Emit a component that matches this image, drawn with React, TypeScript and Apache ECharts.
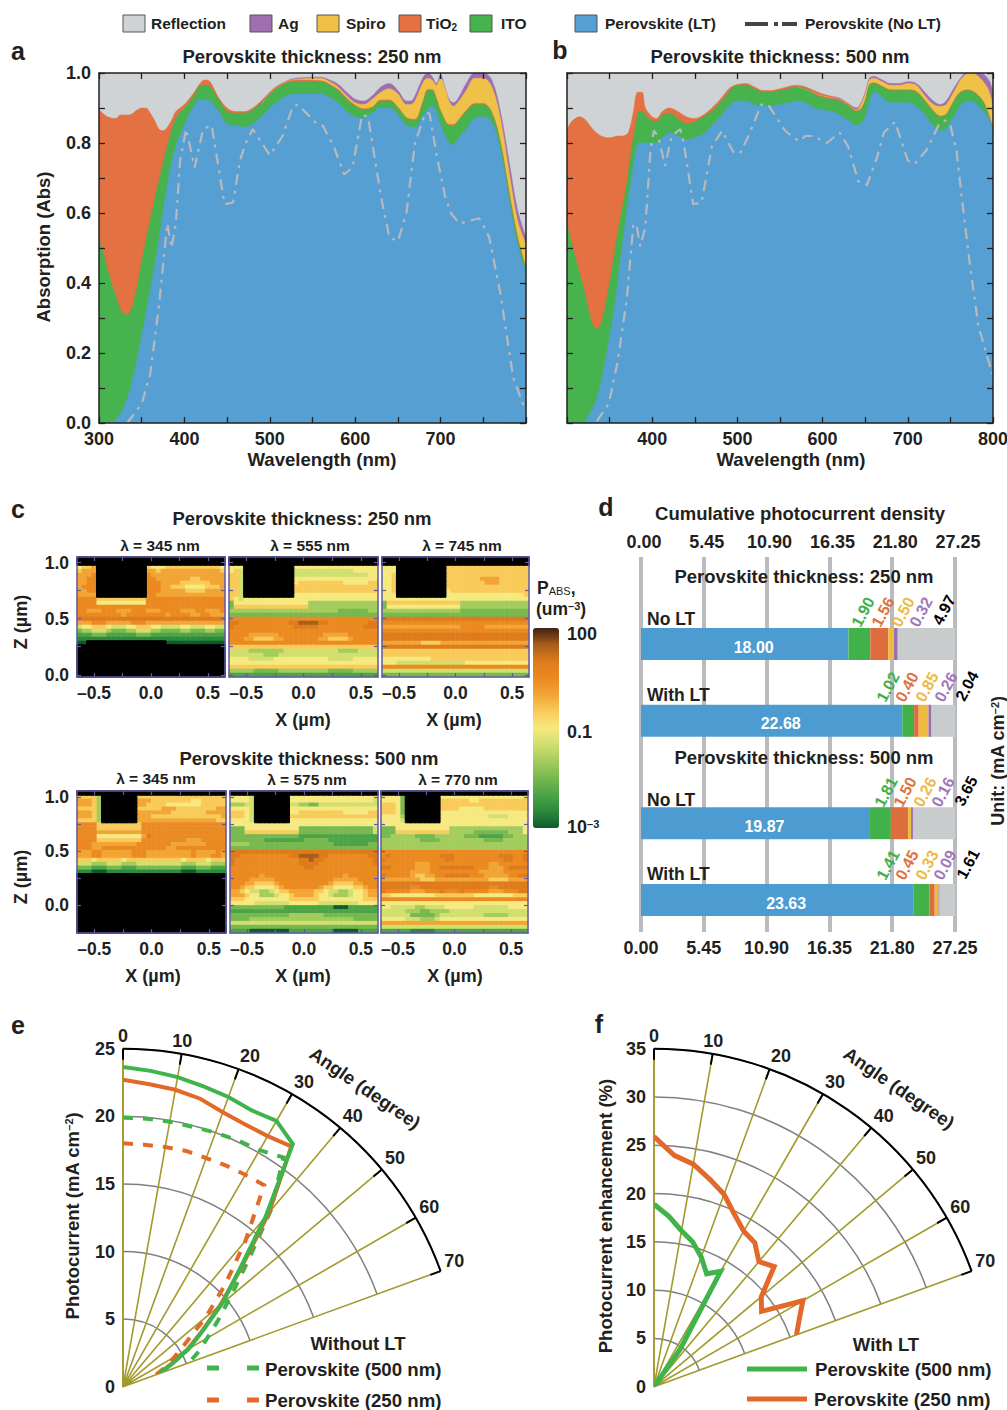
import React, { useEffect, useRef } from "react";
import * as echarts from "echarts";

const FONT = "'Liberation Sans', Arial, sans-serif";
const INK = "#231f20";
const C_REF = "#cfd3d5", C_AG = "#9f6fb2", C_SPIRO = "#efc146", C_TIO2 = "#e37142", C_ITO = "#47b34f", C_PVK = "#569fd2", C_NOLT = "#b9b9bc";

// Panel a: curve tops (cumulative absorption)
const aBlue = [[300,0],[310,0],[320,.01],[330,.05],[340,.13],[350,.25],[360,.38],[370,.52],[380,.68],[390,.79],[400,.85],[410,.9],[420,.925],[430,.92],[440,.89],[450,.855],[460,.85],[470,.845],[480,.855],[490,.875],[500,.9],[510,.92],[520,.935],[530,.94],[550,.94],[560,.94],[570,.93],[580,.915],[590,.89],[600,.875],[610,.87],[620,.885],[630,.9],[640,.9],[650,.88],[660,.85],[670,.845],[680,.88],[690,.905],[695,.89],[700,.85],[710,.8],[715,.795],[720,.81],[730,.84],[740,.87],[750,.875],[760,.86],[770,.78],[780,.64],[790,.51],[800,.43]];
const aIto = [[300,.53],[310,.44],[320,.36],[330,.31],[333,.31],[340,.34],[350,.46],[360,.58],[370,.69],[380,.79],[390,.87],[400,.9],[410,.93],[420,.965],[425,.965],[430,.96],[440,.925],[450,.89],[460,.885],[470,.885],[480,.895],[490,.915],[500,.94],[510,.96],[520,.97],[530,.975],[560,.975],[570,.965],[580,.95],[590,.925],[600,.905],[610,.895],[620,.9],[630,.92],[640,.92],[650,.9],[660,.87],[670,.865],[680,.92],[685,.95],[690,.95],[695,.925],[700,.89],[710,.85],[715,.85],[720,.86],[730,.89],[740,.91],[750,.91],[760,.885],[770,.8],[780,.66],[790,.53],[800,.44]];
const aTio2 = [[300,.895],[310,.875],[320,.87],[325,.88],[335,.88],[345,.895],[350,.9],[355,.9],[360,.885],[365,.865],[370,.84],[375,.835],[380,.845],[385,.865],[390,.89],[400,.91],[410,.94],[420,.975],[425,.98],[430,.975],[440,.93],[450,.9],[460,.89],[470,.89],[480,.9],[490,.92],[500,.945],[510,.965],[520,.975],[530,.98],[560,.978],[570,.968],[580,.953],[590,.928],[600,.908],[610,.898],[620,.903],[630,.923],[640,.923],[650,.903],[660,.873],[670,.868],[680,.923],[685,.953],[690,.953],[695,.928],[700,.893],[710,.853],[715,.853],[720,.863],[730,.893],[740,.913],[750,.913],[760,.888],[770,.803],[780,.663],[790,.533],[800,.443]];
const aSpiro = [[490,.91],[500,.94],[510,.96],[520,.975],[530,.982],[560,.985],[570,.975],[580,.96],[590,.935],[600,.915],[610,.91],[620,.925],[630,.945],[640,.955],[650,.94],[660,.91],[665,.91],[670,.92],[680,.975],[685,.985],[690,.98],[695,.965],[700,.985],[705,.96],[710,.92],[715,.905],[720,.915],[730,.95],[740,.985],[750,.985],[760,.96],[770,.87],[780,.72],[790,.58],[800,.51]];
const aAg = [[490,.91],[500,.94],[510,.96],[520,.977],[530,.985],[560,.988],[570,.98],[580,.968],[590,.945],[600,.925],[610,.92],[620,.935],[630,.96],[640,.97],[650,.95],[660,.92],[665,.92],[670,.935],[680,.99],[685,1],[690,.99],[695,.97],[700,.995],[705,.96],[710,.925],[715,.915],[720,.925],[730,.97],[740,1],[750,1],[760,.98],[770,.89],[780,.75],[790,.61],[800,.53]];
const aNoLT = [[333,0],[350,.055],[360,.14],[370,.33],[375,.45],[380,.57],[385,.5],[390,.57],[395,.75],[402,.84],[412,.73],[422,.84],[432,.85],[447,.625],[457,.63],[465,.75],[472,.8],[480,.84],[500,.765],[515,.82],[527,.905],[533,.91],[555,.855],[562,.85],[575,.79],[587,.71],[597,.73],[608,.88],[615,.875],[630,.65],[640,.53],[650,.52],[660,.6],[670,.8],[682,.885],[687,.885],[695,.77],[705,.65],[712,.6],[722,.57],[745,.585],[750,.565],[757,.53],[770,.37],[785,.13],[797,.05]];

// Panel b
const bBlue = [[300,0],[310,0],[318,0],[325,.02],[335,.07],[345,.18],[355,.32],[362,.45],[370,.6],[377,.72],[385,.8],[392,.8],[405,.8],[412,.815],[420,.83],[430,.82],[440,.81],[450,.815],[460,.825],[470,.85],[480,.875],[490,.905],[500,.92],[510,.92],[520,.91],[530,.905],[540,.905],[550,.91],[560,.915],[570,.92],[580,.915],[590,.9],[600,.895],[610,.89],[620,.88],[630,.865],[640,.85],[648,.865],[652,.89],[658,.94],[662,.945],[670,.93],[680,.915],[700,.915],[710,.905],[720,.88],[730,.85],[738,.835],[745,.84],[755,.88],[765,.915],[775,.92],[785,.9],[795,.87],[800,.83]];
const bIto = [[300,.57],[310,.47],[320,.38],[330,.28],[335,.27],[340,.28],[350,.4],[360,.55],[370,.68],[375,.77],[380,.84],[385,.89],[388,.89],[395,.87],[405,.86],[412,.88],[420,.885],[430,.87],[440,.855],[450,.86],[460,.875],[470,.89],[480,.915],[490,.945],[500,.965],[510,.965],[520,.955],[530,.945],[540,.945],[550,.95],[560,.955],[570,.96],[580,.955],[590,.94],[600,.93],[610,.925],[620,.92],[630,.905],[640,.89],[645,.895],[650,.92],[655,.965],[660,.97],[670,.96],[680,.95],[700,.95],[710,.945],[720,.92],[730,.89],[738,.875],[745,.88],[750,.9],[760,.94],[770,.95],[780,.94],[790,.91],[800,.84]];
const bTio2 = [[300,.84],[307,.865],[315,.875],[322,.865],[330,.84],[340,.82],[350,.815],[360,.82],[365,.82],[372,.83],[378,.89],[383,.945],[388,.945],[392,.9],[400,.875],[405,.87],[412,.89],[420,.9],[430,.89],[440,.875],[450,.87],[460,.88],[470,.9],[480,.925],[490,.955],[497,.965],[510,.97],[520,.96],[530,.95],[540,.95],[550,.955],[570,.965],[580,.96],[590,.95],[600,.94],[620,.925],[630,.91],[640,.893],[645,.898],[650,.922],[655,.967],[660,.972],[670,.962],[680,.952],[700,.952],[710,.947],[720,.922],[730,.892],[738,.877],[745,.882],[750,.902],[760,.942],[770,.952],[780,.942],[790,.912],[800,.842]];
const bSpiro = [[570,.962],[600,.935],[620,.925],[630,.91],[640,.895],[645,.91],[650,.94],[655,.98],[660,.985],[670,.975],[680,.965],[690,.965],[700,.97],[710,.965],[720,.935],[730,.91],[738,.905],[745,.91],[755,.95],[765,.99],[775,1],[785,.985],[795,.95],[800,.9]];
const bAg = [[570,.962],[600,.938],[620,.928],[630,.913],[640,.9],[645,.915],[650,.945],[655,.985],[660,.99],[670,.98],[680,.97],[690,.97],[700,.975],[710,.97],[720,.945],[730,.92],[738,.91],[745,.92],[755,.96],[765,.995],[770,1],[785,1],[795,.98],[800,.945]];
const bNoLT = [[335,.005],[349,.055],[359,.17],[370,.35],[378,.57],[382,.56],[386,.505],[392,.56],[398,.78],[402,.835],[407,.82],[415,.735],[423,.82],[433,.84],[437,.8],[448,.625],[458,.63],[470,.79],[482,.835],[495,.775],[503,.77],[513,.82],[528,.91],[536,.91],[556,.835],[572,.805],[580,.82],[589,.82],[605,.8],[620,.83],[630,.79],[642,.69],[652,.68],[664,.76],[672,.83],[685,.86],[700,.75],[708,.74],[722,.78],[736,.85],[744,.865],[750,.85],[757,.78],[765,.61],[773,.45],[783,.275],[791,.21],[799,.14]];

// Panel c: absorbed power, one character per cell: "." is outside the absorber, 0-9,a,b,c are colour-bar levels
const c345a = [
"..............................","..............................",
"6778..........7666777777777776","7888..........8878888888888887","8889..........9888888888888888","8899..........9988888887788888",
"8899..........9998888777777888","8999..........9998877766667778","8899..........9998888877778888","8888..........9988888888888888",
"999977777777779999999999999999","999966666666669999999999999999","999999999999999999999999999999","998889998889998889999888998889",
"999999999899999999899998899888","aaaaaaaaaaaaaaaaaaaaaaaaaaaaaa","888999888889998888888888888888","566777655566777665555665556655",
"344555433344555443333443334433","222333222222333222222222222222","111111111111111111111111111111","00................000000000000",
"..............................","..............................","..............................","..............................",
"..............................","..............................","..............................",".............................."];
const c555 = [
"..............................","..............................",
"666..........66666666666666666","675..........55555555555566666","775..........55555555555555566","775..........66666666666666666",
"775..........67777777776666677","775..........77777777777777777","775..........77777777777777777","775..........66666666666666666",
"765666666666666666666666666666","366666666666666644444444444444","377777777777777744444444444444","444444444444444444444433333344",
"333333333333333333333333333333","999999999999999999999999999999","aa9999999999aabbbbaa99999999aa","a999999999999aaaaa999999999aaa",
"999999999999999999999999999999","999988888899999999988888999999","999887777889999999887777899999","999999999999999999999999999999",
"777777777777777777777777777777","555544444445555555555544445555","555555544455555555555555555555","666655555666666666665555566666",
"666666666666666666666666666666","777777777777777777777777777777","444443333344444444443333344444","222222222222222222222222222222"];
const c745 = [
"..............................","..............................",
"666..........77777777777777777","666..........77777777777777777","667..........77777777777777777","667..........77777778888777777",
"667..........77777777888777777","667..........77777777777777777","667..........67777777777777777","666..........66666666666666667",
"666666666666666666666666666666","377777777777777744444444444444","366666666666666644444444444444","444444444444444433333333333333",
"333333333333333333333333333333","aaaaaaaaaaaaaaaaaaaaaaaaaaaaaa","999999999999999999999999999999","888888888888888899999888888888",
"999999999999999999999999999999","aaaaaaaaaaaaaaaaaaaaaaaaaaaaaa","aaaaaaaaaaaaaaaaaaaaaaaaaaaaaa","888888887777888888888888888888",
"aaaaaaaaaaaaaaaaaaaaaaaaaaaaaa","777777777777777777777777777777","777777777777777777777777777777","666666666677777777777777777777",
"666555555555555556666666666666","999999999999999999999999999999","555555555555555555555555555555","333333333333333333333333333333"];
const c345b = [
"..............................",
"77774.......777777777777777777","88874.......888777777776677777","88874.......887777666666677777","77774.......777778887777777788",
"88874.......888888877777778888","88874.......888777777777777778","77774.......888888888888888877",
"999977777777799999999999999999","999977777777799999999999999999","999988888888899999999999999999","99996666666668a999999999999999",
"999977777777799999999988899999","999888888888999999988888889999","999889999999999999889999999999","888998888889998888888889888898",
"888998888889998888888889888998","777677777677777777777677776777","555444555444555555555444555444","333222333222333333333222333222",
"111000111111111111111000111111","..............................","..............................","..............................",
"..............................","..............................","..............................","..............................",
"..............................","..............................","..............................","..............................",
"..............................","..............................","..............................",".............................."];
const c575 = [
"..............................",
"66665.......666666666666666666","66665.......666666666666666665","44455.......554433555555555555","66665.......666666666666666666",
"77765.......667777777776666677","77765.......777777777777777777","66665.......666666666666666666",
"666666666666666666666666666666","333666666666663333333333333335","333777777777773333333333333335","333333333333332222222222222222",
"333333322222222333332222222222","444433333333333333333222222233","333333333333333333333333333333","aaaaaaaaaaaaaaaaaaaaaaaaaaaaaa",
"aa9999999999aabbbbaa99999999aa","a9999999999999aabaa9999999999a","a9999999999999aaaa99999999999a","999999999999999aa9999999999999",
"999999999999999999999999999999","999999899999999999999998999999","999988888999999999999888889999","999887777899999999998777788999",
"998776666789999999877666677899","887655445677888887765544566788","888766444566788887665444566788","777666666666777777666666666777",
"666665555555666666555555556666","333333333332222222222000222222","222222222222222222222222222222","333333333333444444433333333333",
"333344444444444444444444433333","555555555555555555555555555555","333333333333333333333333333333","222200000000222222222000002222"];
const c770 = [
"..............................",
"66663.......666666666666666666","66663.......777777667777777777","77763.......777777777777777777","77763.......777766666777777777",
"77763.......666666666666666666","66664.......666666666655556666","66665.......666666666666666666",
"666666666666666666666666666666","333666666666664444444444444446","333777777777774444433333334446","334444433334444443332222233444",
"444444443333444444444333344444","444444444444444444444444444444","444444444444444444444444444444","999999999999999999999999999999",
"9a9999999999aaa999999999aaa99a","a999999999999aa9999999999aa99a","999999988899999999999988999999","aa9999988899aaaaaaa9998889aaaa",
"999999888899999999998888899999","a999998778899aaaaa9998888899aa","888888887778888888888877778888","aaaaaaaaaaaaaaaaaaaaaaaaaaaaaa",
"aaaaaa99aaaaaaaaaaaaaa99aaaaaa","a99999888999a999a99999888999aa","776666666667777777766666666777","999999999999999999999999999999",
"666666666666666666666666666666","665555544555566666655555556666","555554443344445555555555555555","555555333334555555555444445555",
"666665554445666666666666666666","888888888888888888888888888888","555555555555555555555555555555","222222111112222222222222222222"];
const cColors = ["#0f5a2c","#2b8a3e","#4ca447","#77b84f","#a3cc5d","#d0df6e","#f6e97f","#f8cb5a","#f2a535","#ea8a20","#de7b1c","#a85d18","#3d2210"];

// Panel d
const dScale = [0, 27.25];
const dRows = ["No LT (250)", "With LT (250)", "No LT (500)", "With LT (500)"];
const dBlue = [18.0, 22.68, 19.87, 23.63];
const dIto = [1.9, 1.02, 1.81, 1.41];
const dTio2 = [1.56, 0.4, 1.5, 0.45];
const dSpiro = [0.5, 0.85, 0.26, 0.33];
const dAg = [0.32, 0.26, 0.16, 0.09];
const dRef = [4.97, 2.04, 3.65, 1.61];

// Panels e and f: [photocurrent, angle]
const eAngles = [0,5,10,15,20,25,30,35,40,45,50,55,60,65,70];
const e500LT = [23.65,23.45,23.25,23,22.8,22.55,22.7,21.9,16.4,12.1,9.6,7.2,5.65,4.05,2.87];
const e250LT = [22.7,22.45,22.3,22.05,21.6,21.4,21.4,21.7,16.8,12.3,9.4,7.1,5.5,3.9,2.8];
const e500No = [19.9,19.9,19.9,19.9,20,20.1,20.2,20.7,17,13,10.4,8.6,7.2,6.2,5.2];
const e250No = [18,17.97,18,18.05,18,18.05,18.1,18.2,14.1,10.7,8,5.7,4.4,3.5,2.6];
const fAngles500 = [0,5,10,15,20,25,30,35,40];
const f500 = [18.9,17.7,16.4,15.5,14.3,12.9,13.8,4.7,0];
const fAngles250 = [0,5,10,15,20,25,30,35,40,45,50,55,60,65,70];
const f250 = [25.9,24.05,23.4,22.25,21.2,19.7,18.6,18.2,16.9,17.6,14.5,13.6,17.8,16.6,15.7];
const C_G = "#3fb44b", C_O = "#e2692a";

function buildOption() {
  const grids: any[] = [], xAxes: any[] = [], yAxes: any[] = [], series: any[] = [], g: any[] = [];
  const addX = (o: any) => { xAxes.push(o); return xAxes.length - 1; };
  const addY = (o: any) => { yAxes.push(o); return yAxes.length - 1; };
  const addGrid = (left: number, top: number, width: number, height: number, extra: any = {}) => {
    grids.push({ left, top, width, height, containLabel: false, outerBoundsMode: "none", ...extra }); return grids.length - 1;
  };
  const T = (text: string, x: number, y: number, o: any = {}) => {
    g.push({ type: "text", x, y, z: 100, rotation: o.rot || 0, silent: true,
      style: { text, fontFamily: FONT, fontSize: o.size || 18.5, fontWeight: o.weight || "bold", fill: o.fill || INK,
        align: o.align || "center", verticalAlign: "middle", rich: o.rich } });
  };
  const lbl = (size = 17) => ({ color: INK, fontFamily: FONT, fontSize: size, fontWeight: "bold" });

  // a, b
  const spectrum = (left: number, width: number, curves: any[], noLT: number[][], labels: { yl: boolean; lo: number; hi: number }) => {
    const gi = addGrid(left, 73, width, 350, { show: true, backgroundColor: C_REF, borderWidth: 0 });
    const tick = { show: true, inside: true, length: 6, lineStyle: { color: INK, width: 1.3 } };
    const line = { show: true, onZero: false, lineStyle: { color: INK, width: 1.5 } };
    const xi = addX({ gridIndex: gi, type: "value", position: "bottom", min: 300, max: 800, interval: 50, z: 10, splitLine: { show: false }, axisLine: line, axisTick: tick,
      axisLabel: { ...lbl(18), margin: 7, hideOverlap: false, formatter: (v: number) => (v % 100 === 0 && v >= labels.lo && v <= labels.hi ? String(v) : "") } });
    addX({ gridIndex: gi, type: "value", position: "top", min: 300, max: 800, interval: 50, z: 10, splitLine: { show: false }, axisLine: line, axisTick: tick, axisLabel: { show: false } });
    const yi = addY({ gridIndex: gi, type: "value", position: "left", min: 0, max: 1, interval: 0.1, z: 10, splitLine: { show: false }, axisLine: line, axisTick: tick,
      axisLabel: { ...lbl(18), margin: 8, show: labels.yl, formatter: (v: number) => (Math.round(v * 10) % 2 === 0 ? v.toFixed(1) : "") } });
    addY({ gridIndex: gi, type: "value", position: "right", min: 0, max: 1, interval: 0.1, z: 10, splitLine: { show: false }, axisLine: line, axisTick: tick, axisLabel: { show: false } });
    curves.forEach(([name, data, color]) => series.push({ name, type: "line", xAxisIndex: xi, yAxisIndex: yi, data, smooth: 0.35, showSymbol: false, silent: true,
      lineStyle: { width: 0.5, color }, areaStyle: { color, opacity: 1 } }));
    series.push({ name: "Perovskite (No LT)", type: "line", xAxisIndex: xi, yAxisIndex: yi, data: noLT, showSymbol: false, silent: true, z: 3,
      lineStyle: { color: C_NOLT, width: 2.2, type: [11, 6, 3, 6] } });
  };
  spectrum(99, 427, [["Ag", aAg, C_AG], ["Spiro", aSpiro, C_SPIRO], ["TiO2", aTio2, C_TIO2], ["ITO", aIto, C_ITO], ["Perovskite (LT)", aBlue, C_PVK]], aNoLT, { yl: true, lo: 300, hi: 700 });
  spectrum(567, 426, [["Ag", bAg, C_AG], ["Spiro", bSpiro, C_SPIRO], ["TiO2", bTio2, C_TIO2], ["ITO", bIto, C_ITO], ["Perovskite (LT)", bBlue, C_PVK]], bNoLT, { yl: false, lo: 400, hi: 800 });

  // c
  const PURPLE = "#5f5aa6";
  const heatIdx: number[] = [], blackIdx: number[] = [];
  const heat = (rows: string[], left: number, top: number, width: number, height: number, yMin: number, yMax: number, yLab: boolean) => {
    const gi = addGrid(left, top, width, height);
    const cols = rows[0].length;
    const cx = addX({ gridIndex: gi, type: "category", position: "bottom", show: false, data: Array.from({ length: cols }, (_, i) => i) });
    const cy = addY({ gridIndex: gi, type: "category", position: "left", show: false, inverse: true, data: rows.map((_, i) => i) });
    const tick = { inside: true, length: 4, lineStyle: { color: PURPLE, width: 1.2 } };
    const fmt = (v: number) => (v < 0 ? "\u2013" + Math.abs(v).toFixed(1) : v.toFixed(1));
    const xT = [-0.5, -0.25, 0, 0.25, 0.5], yT = [0, 0.25, 0.5, 0.75, 1];
    const edge = { show: true, onZero: false, lineStyle: { color: PURPLE, width: 1.5 } };
    addX({ gridIndex: gi, type: "value", position: "bottom", min: -0.65, max: 0.65, z: 10, splitLine: { show: false }, axisLine: edge,
      axisTick: { ...tick, customValues: xT }, axisLabel: { ...lbl(17.5), margin: 7, customValues: [-0.5, 0, 0.5], formatter: fmt } });
    addX({ gridIndex: gi, type: "value", position: "top", min: -0.65, max: 0.65, z: 10, splitLine: { show: false }, axisLine: edge,
      axisTick: { ...tick, customValues: xT }, axisLabel: { show: false } });
    addY({ gridIndex: gi, type: "value", position: "left", min: yMin, max: yMax, z: 10, splitLine: { show: false }, axisLine: edge,
      axisTick: { ...tick, customValues: yT }, axisLabel: { ...lbl(17.5), margin: 8, customValues: [0, 0.5, 1], formatter: (v: number) => v.toFixed(1), show: yLab } });
    addY({ gridIndex: gi, type: "value", position: "right", min: yMin, max: yMax, z: 10, splitLine: { show: false }, axisLine: edge,
      axisTick: { ...tick, customValues: yT }, axisLabel: { show: false } });
    const data: number[][] = [], black: number[][] = [];
    rows.forEach((r, ry) => { for (let c = 0; c < cols; c++) { const ch = r[c] ?? "."; if (ch === ".") black.push([c, ry, 0]); else data.push([c, ry, parseInt(ch, 36)]); } });
    heatIdx.push(series.length);
    series.push({ type: "heatmap", xAxisIndex: cx, yAxisIndex: cy, data, silent: true, progressive: 0, z: 2 });
    blackIdx.push(series.length);
    series.push({ type: "heatmap", xAxisIndex: cx, yAxisIndex: cy, data: black, silent: true, progressive: 0, z: 2, itemStyle: { borderColor: "#000", borderWidth: 1 } });
  };
  heat(c345a, 77, 557, 148, 120, -0.02, 1.05, true);
  heat(c555, 229, 557, 149, 120, -0.02, 1.05, false);
  heat(c745, 382, 557, 147, 120, -0.02, 1.05, false);
  heat(c345b, 77, 791, 149, 142, -0.26, 1.055, true);
  heat(c575, 230, 791, 148, 142, -0.26, 1.055, false);
  heat(c770, 381, 791, 147, 142, -0.26, 1.055, false);

  // d
  const dGridLines = addGrid(641, 557, 314, 375);
  const dGrey = { show: true, lineStyle: { color: "#b9bbbe", width: 4 } };
  const dFmt = (v: number) => v.toFixed(2);
  addX({ gridIndex: dGridLines, type: "value", position: "bottom", min: dScale[0], max: dScale[1], interval: 5.45, splitLine: dGrey, axisLine: { show: false }, axisTick: { show: false },
    axisLabel: { ...lbl(18), margin: 7, formatter: dFmt } });
  addY({ gridIndex: dGridLines, type: "value", min: 0, max: 1, show: false, splitLine: { show: false } });
  const dTopLabels = addGrid(644, 557, 314, 375);
  addX({ gridIndex: dTopLabels, type: "value", position: "top", min: dScale[0], max: dScale[1], interval: 5.45, splitLine: { show: false }, axisLine: { show: false }, axisTick: { show: false },
    axisLabel: { ...lbl(18), margin: 6, formatter: dFmt } });
  addY({ gridIndex: dTopLabels, type: "value", min: 0, max: 1, show: false, splitLine: { show: false } });
  const dBars = addGrid(641, 554.4, 314, 384);
  const dSlots = [3, 6, 10, 13];
  const slots = Array.from({ length: 15 }, (_, i) => { const k = dSlots.indexOf(i); return k >= 0 ? dRows[k] : "s" + i; });
  const dx = addX({ gridIndex: dBars, type: "value", min: dScale[0], max: dScale[1], show: false, splitLine: { show: false } });
  const dy = addY({ gridIndex: dBars, type: "category", inverse: true, show: false, data: slots });
  const place = (vals: number[]) => slots.map((_, i) => { const k = dSlots.indexOf(i); return k >= 0 ? vals[k] : null; });
  ([[dBlue, "#4c9cd1", "Perovskite"], [dIto, "#41b14a", "ITO"], [dTio2, "#de6d3d", "TiO2"], [dSpiro, "#edbb3f", "Spiro"], [dAg, "#9b6cb0", "Ag"], [dRef, "#c9cccd", "Reflection"]] as any[]).forEach(([vals, color, name], i) => {
    series.push({ name, type: "bar", stack: "d", xAxisIndex: dx, yAxisIndex: dy, data: place(vals), barWidth: 32, silent: true, z: 3, itemStyle: { color },
      label: i === 0 ? { show: true, position: "inside", offset: [9, 3], color: "#fff", fontFamily: FONT, fontSize: 16, fontWeight: "bold", formatter: (p: any) => Number(p.value).toFixed(2) } : { show: false } });
  });
  const rotLab = 1.08;
  const dLabelSets: [number[], string][] = [[dIto, "#3fb04a"], [dTio2, "#e0703f"], [dSpiro, "#edbb3f"], [dAg, "#a277b8"], [dRef, "#000"]];
  const dLabPos = [[[863, 612], [883, 612], [903, 612], [921, 612], [944, 610]], [[888, 687], [907, 687], [927, 687], [946, 687], [967, 686]], [[886, 792], [905, 792], [925, 792], [943, 792], [966, 791]], [[888, 865], [907, 865], [927, 865], [945, 865], [968, 864]]];
  dLabelSets.forEach(([vals, fill], s) => vals.forEach((v, r) => T(v.toFixed(2), dLabPos[r][s][0], dLabPos[r][s][1], { rot: rotLab, fill, size: 16, weight: "bold" })));
  T("No LT", 647, 619, { align: "left", size: 17.5 }); T("With LT", 647, 695, { align: "left", size: 17.5 }); T("No LT", 647, 800, { align: "left", size: 17.5 }); T("With LT", 647, 874, { align: "left", size: 17.5 });

  // e, f
  const polars: any[] = [], angleAxes: any[] = [], radiusAxes: any[] = [];
  const polarPanel = (cx: number, cy: number, R: number, rMax: number) => {
    polars.push({ center: [cx, cy], radius: [0, R] });
    const p = polars.length - 1;
    angleAxes.push({ polarIndex: p, type: "value", startAngle: 90, endAngle: 20, clockwise: true, min: 0, max: 70, interval: 10, z: 1,
      axisLine: { show: false }, axisTick: { show: false },
      splitLine: { show: true, lineStyle: { color: "#a39a2c", width: 1.6 } },
      axisLabel: { ...lbl(18), margin: 4, formatter: (v: number) => String(v) } });
    radiusAxes.push({ polarIndex: p, type: "value", min: 0, max: rMax, interval: 5, z: 1,
      axisLine: { show: true, lineStyle: { color: "#a39a2c", width: 1.6 } }, axisTick: { show: false },
      splitLine: { show: true, lineStyle: { color: "#7f7f7f", width: 1.5 } },
      axisLabel: { ...lbl(18), margin: 8, formatter: (v: number) => String(v) } });
    // a second polar on top carries the black rim and its ticks above the olive spokes
    polars.push({ center: [cx, cy], radius: [0, R] });
    const top = polars.length - 1;
    angleAxes.push({ polarIndex: top, type: "value", startAngle: 90, endAngle: 20, clockwise: true, min: 0, max: 70, interval: 10, z: 3,
      axisLine: { show: true, lineStyle: { color: "#000", width: 2 } },
      axisTick: { show: true, inside: true, length: 11, lineStyle: { color: "#000", width: 2 } },
      splitLine: { show: false }, axisLabel: { show: false } });
    radiusAxes.push({ polarIndex: top, type: "value", min: 0, max: rMax, show: false, splitLine: { show: false } });
    return p;
  };
  const zip = (r: number[], a: number[]) => r.map((v, i) => [v, a[i]]);
  const pe = polarPanel(123, 1386.7, 338, 25);
  const pf = polarPanel(654, 1386.7, 338, 35);
  const polarLine = (name: string, polarIndex: number, r: number[], a: number[], color: string, dashed: boolean, width: number) =>
    series.push({ name, type: "line", coordinateSystem: "polar", polarIndex, data: zip(r, a), showSymbol: false, silent: true, z: 4,
      lineStyle: { color, width, type: dashed ? [10, 10] : "solid", join: "miter" } });
  polarLine("500 no LT", pe, e500No, eAngles, C_G, true, 4);
  polarLine("250 no LT", pe, e250No, eAngles, C_O, true, 4);
  polarLine("250 LT", pe, e250LT, eAngles, C_O, false, 4);
  polarLine("500 LT", pe, e500LT, eAngles, C_G, false, 4);
  polarLine("500", pf, f500, fAngles500, C_G, false, 5);
  polarLine("250", pf, f250, fAngles250, C_O, false, 5);

  // legend strip
  const sw = (x: number, color: string) => g.push({ type: "rect", z: 100, silent: true, shape: { x, y: 15, width: 22, height: 17 }, style: { fill: color, stroke: "#555", lineWidth: 1 } });
  const LG = { align: "left", size: 15.5 };
  sw(123, C_REF); T("Reflection", 151, 23.5, LG);
  sw(250, C_AG); T("Ag", 278, 23.5, LG);
  sw(317, C_SPIRO); T("Spiro", 346, 23.5, LG);
  sw(399, C_TIO2); T("TiO{s|2}", 426, 23.5, { ...LG, rich: { s: { fontSize: 10, fontWeight: "bold", fontFamily: FONT, fill: INK, verticalAlign: "bottom", padding: [8, 0, 0, 0] } } });
  sw(470, C_ITO); T("ITO", 501, 23.5, LG);
  sw(575, C_PVK); T("Perovskite (LT)", 605, 23.5, LG);
  [[745, 23], [774, 4], [782, 15]].forEach(([x, w]) => g.push({ type: "rect", z: 100, silent: true, shape: { x, y: 22, width: w, height: 4 }, style: { fill: "#444" } }));
  T("Perovskite (No LT)", 805, 23.5, LG);

  // panel letters
  [["a", 18, 51], ["b", 560, 50], ["c", 18, 509], ["d", 606, 507], ["e", 18, 1025], ["f", 599, 1024]].forEach(([t, x, y]) => T(t as string, x as number, y as number, { size: 25 }));

  // a, b texts
  T("Perovskite thickness: 250 nm", 312, 56); T("Perovskite thickness: 500 nm", 780, 56);
  T("Wavelength (nm)", 322, 459, { size: 18.6 }); T("Wavelength (nm)", 791, 459, { size: 18.6 });
  T("Absorption (Abs)", 43, 247, { rot: Math.PI / 2, size: 18.5 });

  // c texts
  T("Perovskite thickness: 250 nm", 302, 518); T("Perovskite thickness: 500 nm", 309, 758);
  ([["\u03bb = 345 nm", 160, 545], ["\u03bb = 555 nm", 310, 545], ["\u03bb = 745 nm", 462, 545], ["\u03bb = 345 nm", 156, 778], ["\u03bb = 575 nm", 307, 779], ["\u03bb = 770 nm", 458, 779]] as any[]).forEach(([t, x, y]) => T(t, x, y, { size: 15.5 }));
  ([[303, 720], [454, 720], [153, 976], [303, 976], [455, 976]] as number[][]).forEach(([x, y]) => T("X (\u00b5m)", x, y, { size: 18 }));
  T("Z (\u00b5m)", 21, 622, { rot: Math.PI / 2, size: 18 }); T("Z (\u00b5m)", 21, 877, { rot: Math.PI / 2, size: 18 });
  const sup = { s: { fontSize: 11, fontWeight: "bold", fontFamily: FONT, fill: INK, padding: [0, 0, 6, 0] } };
  T("P{b|ABS},", 537, 588, { align: "left", size: 17.5, rich: { b: { fontSize: 11, fontFamily: FONT, fontWeight: "normal", fill: INK, padding: [6, 0, 0, 0] } } });
  T("(um{s|\u20133})", 536, 609, { align: "left", size: 17.5, rich: sup });
  T("100", 567, 634, { align: "left", size: 18 }); T("0.1", 567, 732, { align: "left", size: 18 }); T("10{s|\u20133}", 567, 827, { align: "left", size: 18, rich: sup });

  // d texts
  T("Cumulative photocurrent density", 800, 513);
  T("Perovskite thickness: 250 nm", 804, 576); T("Perovskite thickness: 500 nm", 804, 757);
  T("Unit: (mA cm{s|\u20132})", 998, 761, { rot: Math.PI / 2, size: 18, rich: sup });

  // e, f texts
  T("Angle (degree)", 365, 1088, { rot: -0.6 }); T("Angle (degree)", 899, 1088, { rot: -0.6 });
  T("Photocurrent (mA cm{s|\u20132})", 72, 1216, { rot: Math.PI / 2, rich: sup });
  T("Photocurrent enhancement (%)", 605, 1216, { rot: Math.PI / 2 });
  T("Without LT", 358, 1343); T("With LT", 886, 1344);
  const LE = { align: "left", size: 18.7 };
  T("Perovskite (500 nm)", 265, 1369, LE); T("Perovskite (250 nm)", 265, 1400, LE);
  T("Perovskite (500 nm)", 815, 1369, LE); T("Perovskite (250 nm)", 814, 1399, LE);
  ([[207, 1368, C_G], [247, 1368, C_G], [207, 1400, C_O], [247, 1400, C_O]] as any[]).forEach(([x, y, c]) => g.push({ type: "rect", z: 100, silent: true, shape: { x, y: y - 2.5, width: 12, height: 5 }, style: { fill: c } }));
  ([[747, 1369, C_G], [747, 1399, C_O]] as any[]).forEach(([x, y, c]) => g.push({ type: "rect", z: 100, silent: true, shape: { x, y: y - 2.5, width: 60, height: 5 }, style: { fill: c } }));

  return {
    animation: false, backgroundColor: "#fff", grid: grids, xAxis: xAxes, yAxis: yAxes,
    polar: polars, angleAxis: angleAxes, radiusAxis: radiusAxes, series, graphic: { elements: g },
    visualMap: [
      { type: "continuous", seriesIndex: heatIdx, min: 0, max: 12, left: 533, top: 628, itemWidth: 26, itemHeight: 200, padding: 0, calculable: false, hoverLink: false, showLabel: false, text: ["", ""], inRange: { color: cColors } },
      { type: "continuous", seriesIndex: blackIdx, min: 0, max: 1, show: false, inRange: { color: ["#000", "#000"] } },
    ],
  };
}

export default function App() {
  const ref = useRef<HTMLDivElement>(null);
  useEffect(() => {
    document.body.style.margin = "0";
    const chart = echarts.init(ref.current!, undefined, { renderer: "svg" });
    chart.setOption(buildOption() as any);
    return () => chart.dispose();
  }, []);
  return <div ref={ref} style={{ width: 1007, height: 1410, position: "absolute", left: 0, top: 0 }} />;
}
